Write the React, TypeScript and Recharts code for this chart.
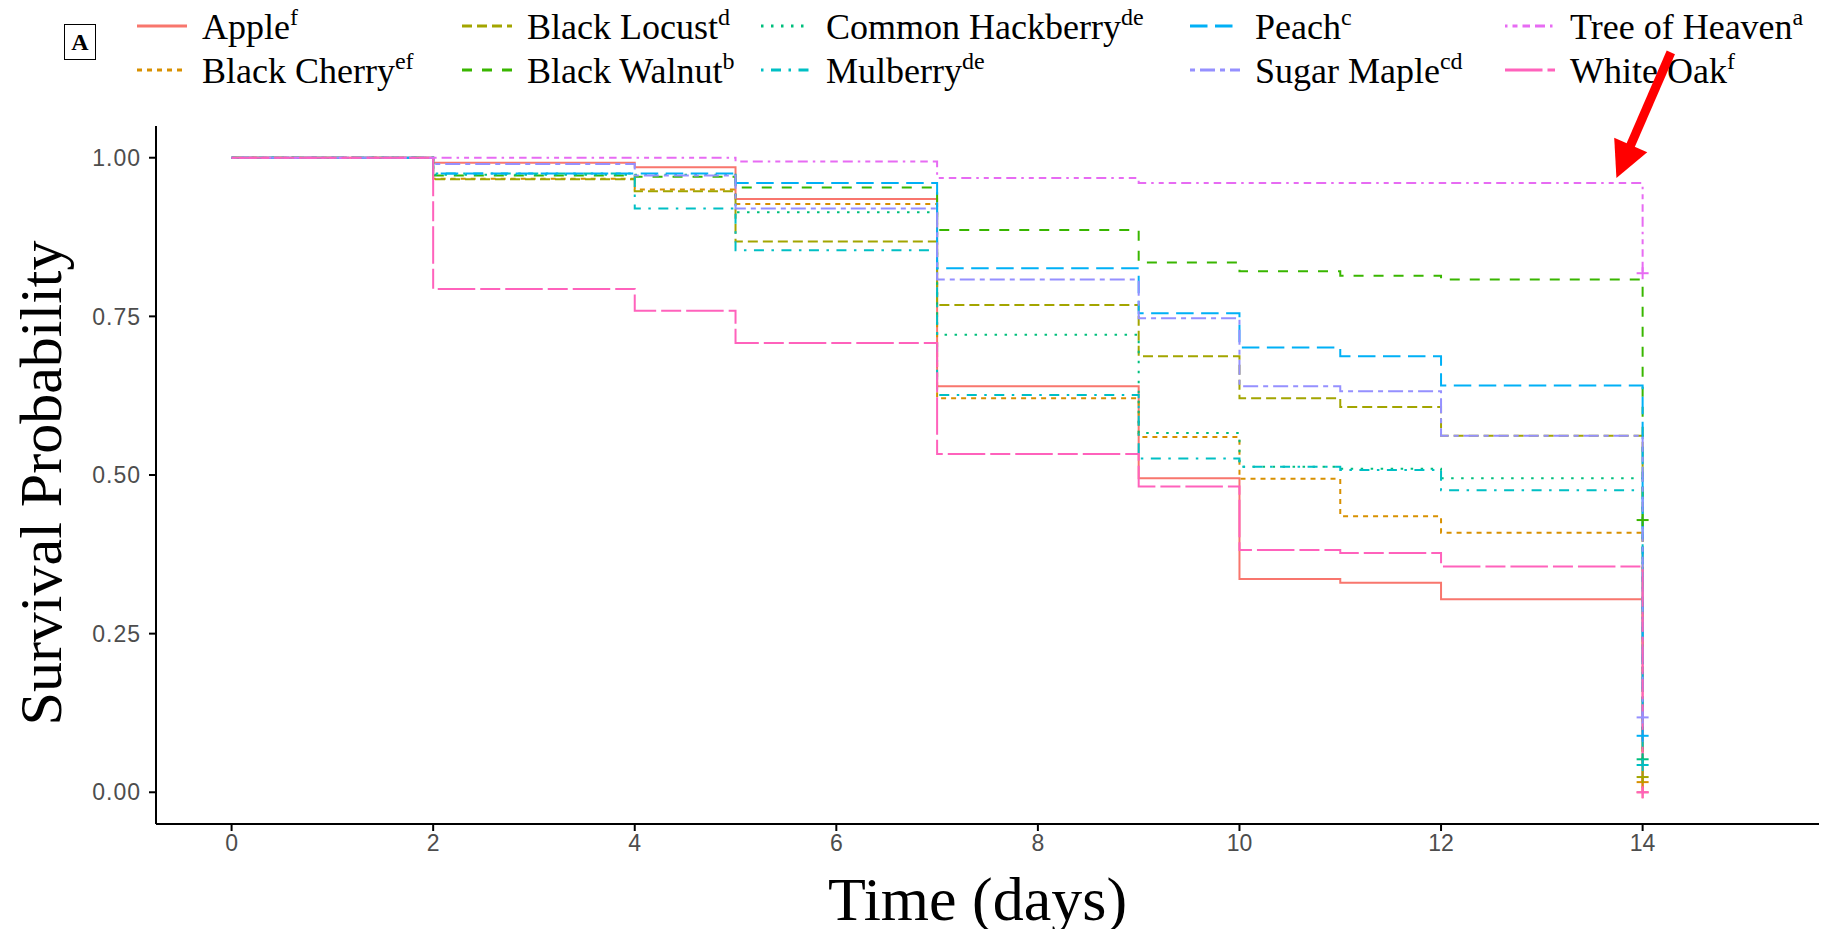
import { Line, LineChart, ReferenceLine, XAxis, YAxis } from 'recharts'

// Kaplan-Meier steps. Last value = level after the day-14 drop (censored there).
const days = [0, 2, 4, 5, 7, 9, 10, 11, 12, 14]
const apple = [1, 0.992, 0.985, 0.935, 0.64, 0.495, 0.336, 0.33, 0.304, 0.0]
const blackCherry = [1, 0.967, 0.95, 0.927, 0.621, 0.56, 0.494, 0.435, 0.409, 0.016]
const blackLocust = [1, 0.966, 0.947, 0.868, 0.768, 0.687, 0.621, 0.607, 0.562, 0.024]
const blackWalnut = [1, 0.972, 0.97, 0.953, 0.886, 0.835, 0.821, 0.814, 0.808, 0.429]
const commonHackberry = [1, 0.973, 0.973, 0.914, 0.721, 0.566, 0.513, 0.51, 0.495, 0.052]
const mulberry = [1, 0.975, 0.92, 0.854, 0.626, 0.526, 0.513, 0.508, 0.476, 0.043]
const peach = [1, 0.975, 0.975, 0.96, 0.826, 0.755, 0.701, 0.687, 0.641, 0.089]
const sugarMaple = [1, 0.99, 0.972, 0.92, 0.808, 0.747, 0.64, 0.632, 0.562, 0.118]
const treeOfHeaven = [1, 1, 1, 0.994, 0.968, 0.96, 0.96, 0.96, 0.96, 0.818]
const whiteOak = [1, 0.793, 0.759, 0.708, 0.533, 0.482, 0.382, 0.377, 0.356, 0.0]

const species = [
  'Apple', 'Black Cherry', 'Black Locust', 'Black Walnut', 'Common Hackberry',
  'Mulberry', 'Peach', 'Sugar Maple', 'Tree of Heaven', 'White Oak',
]
const letters = ['f', 'ef', 'd', 'b', 'de', 'de', 'c', 'cd', 'a', 'f']
const values = [
  apple, blackCherry, blackLocust, blackWalnut, commonHackberry,
  mulberry, peach, sugarMaple, treeOfHeaven, whiteOak,
]

const dayTicks = [0, 2, 4, 6, 8, 10, 12, 14]
const probTicks = [0, 0.25, 0.5, 0.75, 1]

// styling (ggplot hue palette + default linetypes, 2.5px per unit)
const colors = [
  '#F8766D', '#D89000', '#A3A500', '#39B600', '#00BF7D',
  '#00BFC4', '#00B0F6', '#9590FF', '#E76BF3', '#FF62BC',
]
const dashes = [
  undefined, '5 5', '10 5', '10 10', '2.5 7.5',
  '2.5 7.5 10 7.5', '17.5 7.5', '5 5 15 5', '2.5 5 5 5 7.5 5 10 5', '37.5 5 20 5',
]

const rows = days.map((day, i) => {
  const row: Record<string, number> = { day }
  species.forEach((s, k) => {
    row[s] = values[k][i]
  })
  return row
})

const SERIF = "'Liberation Serif', 'Times New Roman', serif"
const SANS = "'Liberation Sans', Arial, sans-serif"
const legendKeyX = [137, 462, 761, 1190, 1505]
const legendRowY = [26, 70]

function Legend() {
  return (
    <svg width={1837} height={110} style={{ position: 'absolute', left: 0, top: 0 }}>
      {species.map((s, i) => {
        const x = legendKeyX[Math.floor(i / 2)]
        const y = legendRowY[i % 2]
        return (
          <g key={s}>
            <line x1={x} x2={x + 50} y1={y} y2={y} stroke={colors[i]} strokeWidth={3} strokeDasharray={dashes[i]} />
            <text x={x + 65} y={y + 13} fontFamily={SERIF} fontSize={36} fill="#000">
              {s}
              <tspan dy={-14} fontSize={24}>{letters[i]}</tspan>
            </text>
          </g>
        )
      })}
    </svg>
  )
}

function Censor(props: any) {
  const { cx, cy, index, stroke } = props
  if (index !== days.length - 1 || cx == null) return <g key={`c-${index}`} />
  return (
    <g key={`c-${index}`} stroke={stroke} strokeWidth={2}>
      <line x1={cx - 6} x2={cx + 6} y1={cy} y2={cy} />
      <line x1={cx} x2={cx} y1={cy - 6} y2={cy + 6} />
    </g>
  )
}

function Arrow(props: any) {
  const { x1, y1, x2, y2 } = props
  if (x1 == null) return <g />
  const len = Math.hypot(x2 - x1, y2 - y1)
  const ux = (x2 - x1) / len
  const uy = (y2 - y1) / len
  const head = 36
  const half = 18
  const bx = x2 - ux * head
  const by = y2 - uy * head
  return (
    <g>
      <line x1={x1} y1={y1} x2={bx + ux * 4} y2={by + uy * 4} stroke="#ff0000" strokeWidth={9} />
      <polygon
        points={`${x2},${y2} ${bx - uy * half},${by + ux * half} ${bx + uy * half},${by - ux * half}`}
        fill="#ff0000"
      />
    </g>
  )
}

function XTitle(props: any) {
  const vb = props.viewBox ?? { x: 156, y: 824, width: 1663, height: 113 }
  return (
    <text x={vb.x + vb.width / 2 - 10} y={vb.y + 96} textAnchor="middle" fontFamily={SERIF} fontSize={62} fill="#000">
      Time (days)
    </text>
  )
}

function YTitle(props: any) {
  const vb = props.viewBox ?? { x: 0, y: 126, width: 156, height: 697 }
  const x = vb.x + 61
  const y = vb.y + vb.height / 2 + 8
  return (
    <text x={x} y={y} transform={`rotate(-90, ${x}, ${y})`} textAnchor="middle" fontFamily={SERIF} fontSize={60} fill="#000">
      Survival Probability
    </text>
  )
}

export default function App() {
  const xTick = { fontSize: 23, fill: '#4D4D4D', fontFamily: SANS }
  const yTick = { fontSize: 23, fill: '#4D4D4D', fontFamily: SANS, letterSpacing: 1 }
  const axisLine = { stroke: '#000', strokeWidth: 2 }
  return (
    <div style={{ position: 'relative', width: 1837, height: 937, margin: -8, background: '#fff', overflow: 'hidden' }}>
      <Legend />
      <div
        style={{
          position: 'absolute', left: 64, top: 24, width: 30, height: 34, border: '1.5px solid #000',
          fontFamily: SERIF, fontWeight: 'bold', fontSize: 24, lineHeight: '34px', textAlign: 'center',
        }}
      >
        A
      </div>
      <div style={{ position: 'absolute', left: 0, top: 0 }}>
        <LineChart width={1837} height={937} data={rows} margin={{ top: 126, right: 18, bottom: 0, left: 0 }}>
          <XAxis
            dataKey="day"
            type="number"
            domain={[-0.75, 15.75]}
            ticks={dayTicks}
            allowDataOverflow
            height={113}
            tick={xTick}
            tickSize={7}
            tickMargin={4}
            axisLine={axisLine}
            tickLine={axisLine}
            label={XTitle}
          />
          <YAxis
            type="number"
            domain={[-0.05, 1.05]}
            ticks={probTicks}
            allowDataOverflow
            width={156}
            tick={yTick}
            tickSize={7}
            tickMargin={8}
            tickFormatter={(v: number) => v.toFixed(2)}
            axisLine={axisLine}
            tickLine={axisLine}
            label={YTitle}
          />
          {species.map((s, i) => (
            <Line
              key={s}
              type="stepAfter"
              dataKey={s}
              stroke={colors[i]}
              strokeWidth={2}
              strokeDasharray={dashes[i]}
              dot={Censor}
              activeDot={false}
              isAnimationActive={false}
            />
          ))}
          <ReferenceLine
            segment={[{ x: 14.28, y: 1.166 }, { x: 13.74, y: 0.968 }]}
            ifOverflow="visible"
            shape={Arrow}
          />
        </LineChart>
      </div>
      <div style={{ position: 'absolute', left: 0, top: 0, width: 3, height: 937, background: '#3a3a3a' }} />
    </div>
  )
}
